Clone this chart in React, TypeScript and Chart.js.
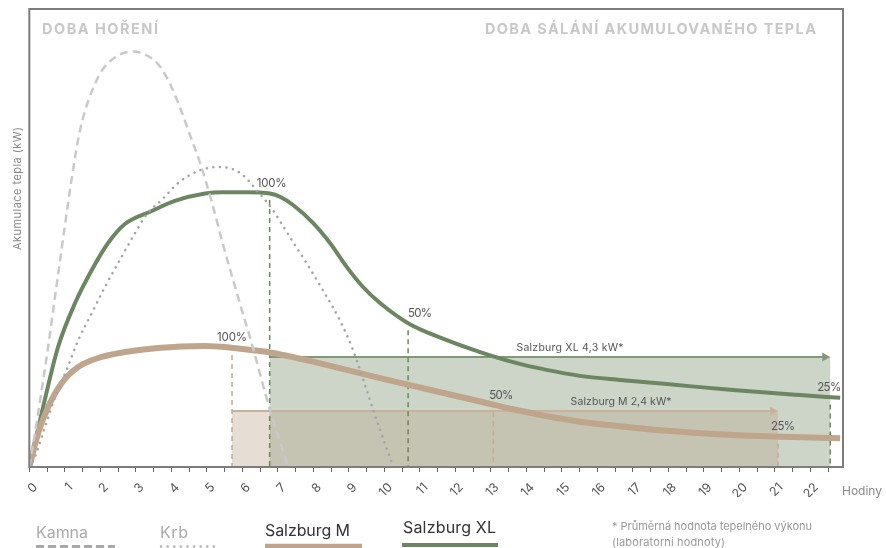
import React, { useEffect, useRef } from 'react';
import { Chart, registerables } from 'chart.js';
Chart.register(...registerables);

// ---------- data ----------
const X_MAX = 22.92;
const Y_MAX = 10;

const kamnaX = [0, 0.25, 0.53, 0.77, 1.19, 1.43, 1.9, 2.22, 2.88, 3.6, 3.91, 4.25, 4.53, 4.81, 5.15, 5.46, 5.88, 6.3, 6.78, 7.29];
const kamnaY = [0, 1.18, 2.62, 3.97, 6.27, 7.36, 8.45, 8.82, 9.07, 8.82, 8.45, 7.84, 7.24, 6.64, 5.76, 4.85, 3.71, 2.6, 1.24, 0];

const krbX = [0, 0.16, 0.44, 0.77, 1.05, 1.38, 1.76, 2.13, 2.6, 2.98, 3.34, 3.73, 4.19, 4.81, 5.37, 5.94, 6.41, 6.86, 7.34, 7.81, 8.27, 8.75, 9.12, 9.5, 9.88, 10.21, 10.25];
const krbY = [0, 0.22, 0.87, 1.62, 2.12, 2.77, 3.36, 3.93, 4.59, 5.11, 5.55, 5.83, 6.2, 6.48, 6.55, 6.42, 6.04, 5.61, 5.02, 4.45, 3.86, 3.2, 2.55, 1.68, 0.81, 0.09, 0];

const xlX = [0, 0.35, 0.81, 1.29, 1.76, 2.22, 2.7, 3.45, 4.1, 4.95, 5.46, 6.12, 6.78, 7.06, 7.43, 7.99, 8.47, 8.94, 9.4, 9.88, 10.67, 11.76, 12.7, 13.63, 14.57, 15.51, 16.64, 17.96, 19.82, 21.71, 22.84];
const xlY = [0, 1.18, 2.62, 3.58, 4.3, 4.89, 5.31, 5.59, 5.81, 5.97, 6.0, 6.0, 5.97, 5.9, 5.72, 5.33, 4.89, 4.37, 3.93, 3.58, 3.14, 2.77, 2.51, 2.29, 2.12, 1.99, 1.9, 1.81, 1.68, 1.57, 1.51];

const mX = [0, 0.25, 0.53, 0.91, 1.37, 1.94, 2.7, 3.63, 4.95, 5.74, 6.3, 6.78, 7.25, 7.99, 8.94, 9.88, 10.81, 11.76, 12.7, 13.63, 14.57, 15.51, 16.64, 17.96, 19.82, 21.23, 22.84];
const mY = [0, 0.74, 1.31, 1.83, 2.18, 2.38, 2.51, 2.6, 2.64, 2.6, 2.55, 2.5, 2.43, 2.3, 2.12, 1.94, 1.77, 1.6, 1.43, 1.26, 1.11, 0.99, 0.89, 0.79, 0.7, 0.66, 0.63];

// radiation periods (hours) and average output level: [Salzburg M, Salzburg XL]
const boxStart = [5.71, 6.77];
const boxEnd = [21.09, 22.56];
const boxLevel = [1.22, 2.4];
const boxLabels = ['Salzburg M 2,4 kW*', 'Salzburg XL 4,3 kW*'];
const boxLabelX = [16.67, 15.23];

// markers (100 %, 50 %, 25 %)
const markLabels = ['100%', '50%', '25%'];
const mMarkX = [5.71, 13.07, 21.09];
const mMarkY = [2.6, 1.35, 0.66];
const xlMarkX = [6.77, 10.67, 22.56];
const xlMarkY = [5.98, 3.14, 1.52];

const headerLeft = 'DOBA HOŘENÍ';
const headerRight = 'DOBA SÁLÁNÍ AKUMULOVANÉHO TEPLA';
const yTitle = 'Akumulace tepla (kW)';
const xTitle = 'Hodiny';
const legendNames = ['Kamna', 'Krb', 'Salzburg M', 'Salzburg XL'];
const footnote = ['* Průměrná hodnota tepelného výkonu', '(laboratorní hodnoty)'];

// ---------- styles ----------
const FONT = 'Inter, "Open Sans", sans-serif';
const C_KAMNA = '#c9c9c9';
const C_KRB = '#a4a4a4';
const C_M = '#bea58c';
const C_XL = '#6b8660';
const mLabelDx = [0, 8, 5];
const xlLabelDx = [2, 12, -1];

function fitText(ctx: CanvasRenderingContext2D, text: string, x: number, y: number, w: number, align: 'left' | 'center' | 'right' = 'left', maxLs = 1.2) {
  (ctx as any).letterSpacing = '0px';
  const n = Array.from(text).length;
  const w0 = ctx.measureText(text).width;
  let ls = n > 1 ? (w - w0) / (n - 1) : 0;
  ls = Math.max(-1, Math.min(maxLs, ls));
  (ctx as any).letterSpacing = ls + 'px';
  const w1 = w0 + ls * (n - 1);
  const left = align === 'left' ? x : align === 'center' ? x - w1 / 2 : x - w1;
  ctx.textAlign = 'left';
  ctx.fillText(text, left, y);
  (ctx as any).letterSpacing = '0px';
}

const pts = (xs: number[], ys: number[]) => xs.map((x, i) => ({ x, y: ys[i] }));

const overlayPlugin = {
  id: 'overlay',
  beforeDatasetsDraw(chart: any) {
    const { ctx, scales } = chart;
    const sx = scales.x, sy = scales.y;
    const base = sy.getPixelForValue(0);
    const L = boxStart.map((v) => sx.getPixelForValue(v));
    const R = boxEnd.map((v) => sx.getPixelForValue(v));
    const T = boxLevel.map((v) => sy.getPixelForValue(v));
    ctx.save();
    ctx.fillStyle = '#e6ded4';
    ctx.fillRect(L[0], T[0], R[0] - L[0], base - T[0]);
    ctx.fillStyle = '#cdd5c9';
    ctx.fillRect(L[1], T[1], R[1] - L[1], base - T[1]);
    const oL = Math.max(L[0], L[1]), oR = Math.min(R[0], R[1]), oT = Math.max(T[0], T[1]);
    ctx.fillStyle = '#c5c3b1';
    ctx.fillRect(oL, oT, oR - oL, base - oT);

    // arrows
    const arrowCols = ['#c8b29c', '#819879'];
    for (let i = 0; i < 2; i++) {
      ctx.strokeStyle = arrowCols[i];
      ctx.fillStyle = arrowCols[i];
      ctx.lineWidth = 2;
      ctx.beginPath();
      ctx.moveTo(L[i], T[i]);
      ctx.lineTo(R[i] - 6, T[i]);
      ctx.stroke();
      ctx.beginPath();
      ctx.moveTo(R[i], T[i]);
      ctx.lineTo(R[i] - 8, T[i] - 4.5);
      ctx.lineTo(R[i] - 8, T[i] + 4.5);
      ctx.closePath();
      ctx.fill();
    }

    // markers
    const drawMarks = (xs: number[], ys: number[], col: string, dxs: number[]) => {
      for (let i = 0; i < xs.length; i++) {
        const px = sx.getPixelForValue(xs[i]);
        const py = sy.getPixelForValue(ys[i]);
        ctx.strokeStyle = col;
        ctx.lineWidth = 1.5;
        ctx.setLineDash([5, 4]);
        ctx.beginPath();
        ctx.moveTo(px, py + 7);
        ctx.lineTo(px, base);
        ctx.stroke();
        ctx.setLineDash([]);
        ctx.fillStyle = '#555';
        ctx.font = `11.5px ${FONT}`;
        ctx.textBaseline = 'middle';
        const w = markLabels[i].length === 4 ? 30 : 24;
        fitText(ctx, markLabels[i], px + dxs[i], py - 10, w, 'center');
      }
    };
    drawMarks(mMarkX, mMarkY, '#c4a98f', mLabelDx);
    drawMarks(xlMarkX, xlMarkY, '#6b8660', xlLabelDx);

    // box labels
    ctx.fillStyle = '#555';
    ctx.font = `10.5px ${FONT}`;
    ctx.textBaseline = 'middle';
    const bw = [101, 107];
    for (let i = 0; i < 2; i++) {
      fitText(ctx, boxLabels[i], sx.getPixelForValue(boxLabelX[i]), T[i] - 9, bw[i], 'center');
    }
    ctx.restore();
  },
  afterDraw(chart: any) {
    const { ctx, chartArea } = chart;
    ctx.save();
    // frame
    ctx.strokeStyle = '#7d7d7d';
    ctx.lineWidth = 2;
    ctx.strokeRect(chartArea.left, chartArea.top, chartArea.right - chartArea.left, chartArea.bottom - chartArea.top);

    ctx.textBaseline = 'middle';
    // headers
    ctx.fillStyle = '#c8c8c8';
    ctx.font = `700 14.5px ${FONT}`;
    fitText(ctx, headerLeft, 42, 29.5, 116, 'left', 2);
    fitText(ctx, headerRight, 816, 29.5, 331, 'right', 2);

    // y title
    ctx.save();
    ctx.translate(17.5, 188.5);
    ctx.rotate(-Math.PI / 2);
    ctx.fillStyle = '#888';
    ctx.font = `11px ${FONT}`;
    fitText(ctx, yTitle, 0, 0, 123, 'center');
    ctx.restore();

    // x title
    ctx.fillStyle = '#888';
    ctx.font = `12px ${FONT}`;
    fitText(ctx, xTitle, 842, 491, 40, 'left');

    // legend
    ctx.font = `16px ${FONT}`;
    ctx.fillStyle = '#aaa';
    fitText(ctx, legendNames[0], 36, 533, 52, 'left');
    fitText(ctx, legendNames[1], 160, 533, 28, 'left');
    ctx.fillStyle = '#333';
    fitText(ctx, legendNames[2], 265, 531, 85, 'left');
    fitText(ctx, legendNames[3], 403, 528, 93, 'left');

    ctx.lineWidth = 3;
    ctx.strokeStyle = '#a9a9a9';
    ctx.setLineDash([8, 4]);
    ctx.beginPath(); ctx.moveTo(36, 546.5); ctx.lineTo(115, 546.5); ctx.stroke();
    ctx.strokeStyle = '#b0b0b0';
    ctx.lineCap = 'round';
    ctx.lineWidth = 2.5;
    ctx.setLineDash([0.1, 6.5]);
    ctx.beginPath(); ctx.moveTo(161, 546.5); ctx.lineTo(218, 546.5); ctx.stroke();
    ctx.setLineDash([]);
    ctx.lineCap = 'butt';
    ctx.lineWidth = 4.5;
    ctx.strokeStyle = C_M;
    ctx.beginPath(); ctx.moveTo(265, 546); ctx.lineTo(362, 546); ctx.stroke();
    ctx.strokeStyle = C_XL;
    ctx.lineWidth = 4;
    ctx.beginPath(); ctx.moveTo(402, 545); ctx.lineTo(498, 545); ctx.stroke();

    // footnote
    ctx.fillStyle = '#999';
    ctx.font = `11px ${FONT}`;
    fitText(ctx, footnote[0], 612, 527, 200, 'left');
    fitText(ctx, footnote[1], 612, 543, 113, 'left');
    ctx.restore();
  },
};

export default function App() {
  const ref = useRef<HTMLCanvasElement>(null);
  useEffect(() => {
    const common = { pointRadius: 0, cubicInterpolationMode: 'monotone', fill: false };
    const chart = new Chart(ref.current as HTMLCanvasElement, {
      type: 'line',
      data: {
        datasets: [
          { label: legendNames[0], data: pts(kamnaX, kamnaY), borderColor: C_KAMNA, borderWidth: 2.5, borderDash: [8, 5], ...common },
          { label: legendNames[1], data: pts(krbX, krbY), borderColor: C_KRB, borderWidth: 2.5, borderDash: [0.1, 6.5], borderCapStyle: 'round', ...common },
          { label: legendNames[2], data: pts(mX, mY), borderColor: C_M, borderWidth: 6, ...common },
          { label: legendNames[3], data: pts(xlX, xlY), borderColor: C_XL, borderWidth: 4, ...common },
        ] as any,
      },
      options: {
        responsive: false,
        animation: false,
        devicePixelRatio: 1,
        layout: { padding: { left: 29.3, top: 9, right: 43, bottom: 51 } },
        plugins: { legend: { display: false }, tooltip: { enabled: false } },
        events: [],
        scales: {
          x: {
            type: 'linear',
            min: 0,
            max: X_MAX,
            afterFit: (s: any) => { s.height = 30; },
            border: { display: false },
            grid: { display: true, drawOnChartArea: false, drawTicks: true, tickLength: 5, color: '#666', lineWidth: 1 },
            ticks: {
              stepSize: 0.5,
              includeBounds: false,
              autoSkip: false,
              minRotation: 45,
              maxRotation: 45,
              labelOffset: 6,
              padding: 8,
              color: '#555',
              font: { family: FONT, size: 12.5 },
              callback: (v: any) => (Number.isInteger(v) ? String(v) : ''),
            },
          },
          y: {
            type: 'linear',
            min: 0,
            max: Y_MAX,
            display: false,
          },
        },
      } as any,
      plugins: [overlayPlugin],
    });
    return () => chart.destroy();
  }, []);
  return (
    <div style={{ position: 'fixed', left: 0, top: 0, width: 886, height: 548, background: '#fff' }}>
      <canvas ref={ref} width={886} height={548} style={{ display: 'block', width: 886, height: 548 }} />
    </div>
  );
}
